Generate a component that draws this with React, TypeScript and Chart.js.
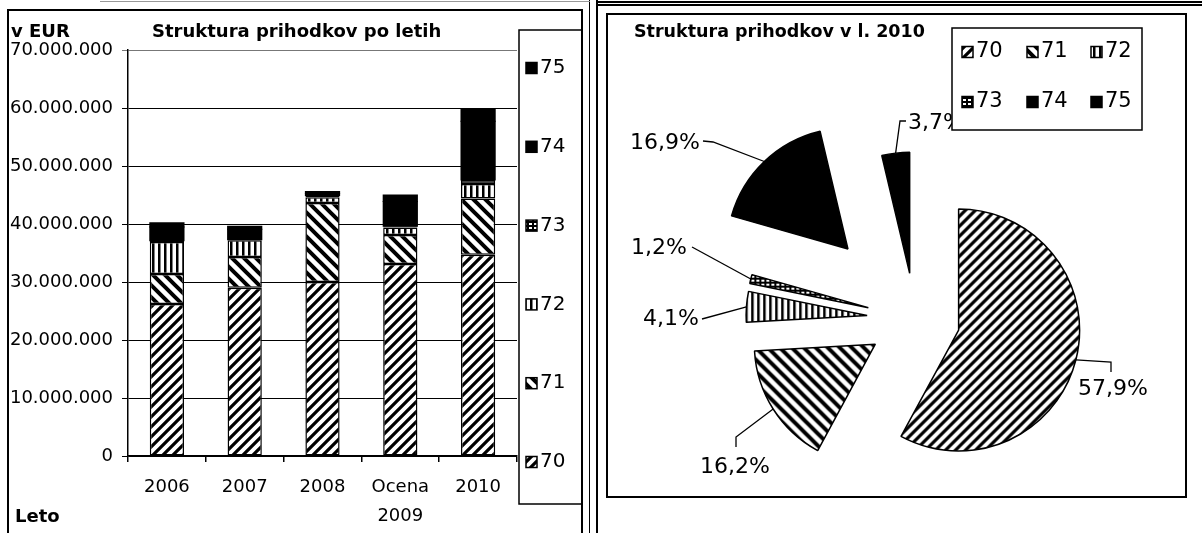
import React, { useEffect, useRef } from "react";
import { Chart, registerables } from "chart.js";

Chart.register(...registerables);

// ---------------- data ----------------
const yearLabels: (string | string[])[] = ["2006", "2007", "2008", ["Ocena", "2009"], "2010"];
const seriesCodes = ["70", "71", "72", "73", "74", "75"];
const rev70 = [26200000, 29000000, 30000000, 33100000, 34700000];
const rev71 = [5200000, 5300000, 13600000, 5000000, 9700000];
const rev72 = [5500000, 2900000, 1000000, 1300000, 2500000];
const rev73 = [200000, 100000, 300000, 200000, 700000];
const rev74 = [2400000, 1800000, 400000, 4300000, 10100000];
const rev75 = [700000, 500000, 300000, 1100000, 2200000];
const yTickValues = [0, 10000000, 20000000, 30000000, 40000000, 50000000, 60000000, 70000000];
const share2010 = [57.9, 16.2, 4.1, 1.2, 16.9, 3.7];

const barTitle = "Struktura prihodkov po letih";
const pieTitle = "Struktura prihodkov v l. 2010";
const yAxisName = "v EUR";
const xAxisName = "Leto";

const barSeries = [rev70, rev71, rev72, rev73, rev74, rev75];

// ---------------- styles ----------------
const FONT = "'DejaVu Sans', 'Liberation Sans', sans-serif";

const PATTERN_STYLE: Record<string, { kind: string; size: number; line: number }> = {
  "70": { kind: "up", size: 10, line: 3.2 },
  "71": { kind: "down", size: 12, line: 4 },
  "72": { kind: "vert", size: 6, line: 2.5 },
  "73": { kind: "dots", size: 5, line: 1 },
  "74": { kind: "solid", size: 1, line: 1 },
  "75": { kind: "solid", size: 1, line: 1 },
};

function makePattern(code: string): CanvasPattern | string {
  const st = PATTERN_STYLE[code];
  if (st.kind === "solid") return "#000";
  const c = document.createElement("canvas");
  const s = st.size;
  if (st.kind === "vert") {
    c.width = s;
    c.height = 4;
  } else if (st.kind === "dots") {
    c.width = 5;
    c.height = 4;
  } else {
    c.width = s;
    c.height = s;
  }
  const g = c.getContext("2d")!;
  g.fillStyle = "#fff";
  g.fillRect(0, 0, c.width, c.height);
  g.fillStyle = "#000";
  g.strokeStyle = "#000";
  g.lineWidth = st.line;
  if (st.kind === "up") {
    g.beginPath();
    g.moveTo(0, s); g.lineTo(s, 0);
    g.moveTo(-s / 2, s / 2); g.lineTo(s / 2, -s / 2);
    g.moveTo(s / 2, (3 * s) / 2); g.lineTo((3 * s) / 2, s / 2);
    g.stroke();
  } else if (st.kind === "down") {
    g.beginPath();
    g.moveTo(0, 0); g.lineTo(s, s);
    g.moveTo(-s / 2, s / 2); g.lineTo(s / 2, (3 * s) / 2);
    g.moveTo(s / 2, -s / 2); g.lineTo((3 * s) / 2, s / 2);
    g.stroke();
  } else if (st.kind === "vert") {
    g.fillRect(0, 0, st.line, c.height);
  } else if (st.kind === "dots") {
    g.fillRect(0, 0, 5, 4);
    g.fillStyle = "#fff";
    g.fillRect(1, 1, 3, 2);
  }
  return g.createPattern(c, "repeat")!;
}

const fmtThousands = (v: number) => String(Math.round(v)).replace(/\B(?=(\d{3})+(?!\d))/g, ".");
const fmtPct = (v: number) => v.toFixed(1).replace(".", ",") + "%";

// layout constants (canvas coordinates)
const BAR_CANVAS = { left: 8, top: 10, width: 574, height: 523 };
const PIE_CANVAS = { left: 607, top: 14, width: 579, height: 483 };

const BAR_LEGEND = { x: 511, y: 20, w: 63, h: 474, markerX: 518, textX: 532, firstY: 58, step: 78.8, box: 11, font: 20 };
const PIE_LEGEND = { x: 345, y: 14, w: 190, h: 102, cols: [355, 420, 484], rows: [38, 88], box: 11, font: 21 };

const PIE_EXPLODE = [45, 47, 48, 48, 97, 46];
const PIE_CALLOUTS: { pts: number[][]; tx: number; ty: number; align: CanvasTextAlign }[] = [
  { pts: [[504, 348], [504, 358]], tx: 506, ty: 375, align: "center" },
  { pts: [[129, 423], [129, 433]], tx: 128, ty: 453, align: "center" },
  { pts: [[95, 305]], tx: 92, ty: 305, align: "right" },
  { pts: [[85, 233]], tx: 80, ty: 234, align: "right" },
  { pts: [[106, 128], [96, 127]], tx: 93, ty: 129, align: "right" },
  { pts: [[293, 107], [299, 107]], tx: 301, ty: 109, align: "left" },
];

// ---------------- plugins ----------------
const barDecor = {
  id: "barDecor",
  afterDraw(chart: any) {
    const ctx: CanvasRenderingContext2D = chart.ctx;
    ctx.save();
    // legend box
    ctx.fillStyle = "#fff";
    ctx.fillRect(BAR_LEGEND.x, BAR_LEGEND.y, BAR_LEGEND.w, BAR_LEGEND.h);
    ctx.strokeStyle = "#000";
    ctx.lineWidth = 1.5;
    ctx.strokeRect(BAR_LEGEND.x, BAR_LEGEND.y, BAR_LEGEND.w, BAR_LEGEND.h);
    const ds = chart.data.datasets;
    for (let k = 0; k < ds.length; k++) {
      const i = ds.length - 1 - k;
      const cy = BAR_LEGEND.firstY + k * BAR_LEGEND.step;
      const b = BAR_LEGEND.box;
      ctx.fillStyle = ds[i].backgroundColor;
      ctx.fillRect(BAR_LEGEND.markerX, cy - b / 2, b, b);
      ctx.lineWidth = 1.5;
      ctx.strokeRect(BAR_LEGEND.markerX, cy - b / 2, b, b);
      ctx.fillStyle = "#000";
      ctx.font = `${BAR_LEGEND.font}px ${FONT}`;
      ctx.textBaseline = "middle";
      ctx.textAlign = "left";
      ctx.fillText(ds[i].label, BAR_LEGEND.textX, cy);
    }
    // titles
    ctx.fillStyle = "#000";
    ctx.font = `bold 18px ${FONT}`;
    ctx.textBaseline = "alphabetic";
    ctx.textAlign = "left";
    ctx.fillText(yAxisName, 3, 27);
    ctx.fillText(barTitle, 144, 27);
    ctx.textBaseline = "middle";
    ctx.fillText(xAxisName, 7, 507);
    ctx.restore();
  },
};

const pieExplode = {
  id: "pieExplode",
  beforeDatasetDraw(chart: any, args: any) {
    const ctx: CanvasRenderingContext2D = chart.ctx;
    const arcs = args.meta.data;
    arcs.forEach((arc: any, i: number) => {
      const mid = (arc.startAngle + arc.endAngle) / 2;
      const d = PIE_EXPLODE[i] || 0;
      ctx.save();
      ctx.translate(Math.cos(mid) * d, Math.sin(mid) * d);
      arc.draw(ctx);
      ctx.restore();
    });
    return false;
  },
  afterDatasetsDraw(chart: any) {
    const ctx: CanvasRenderingContext2D = chart.ctx;
    const meta = chart.getDatasetMeta(0);
    const values = chart.data.datasets[0].data;
    ctx.save();
    meta.data.forEach((arc: any, i: number) => {
      const mid = (arc.startAngle + arc.endAngle) / 2;
      const r = arc.outerRadius + (PIE_EXPLODE[i] || 0);
      const ax = arc.x + Math.cos(mid) * r;
      const ay = arc.y + Math.sin(mid) * r;
      const co = PIE_CALLOUTS[i];
      ctx.strokeStyle = "#000";
      ctx.lineWidth = 1.3;
      ctx.beginPath();
      ctx.moveTo(ax, ay);
      co.pts.forEach((p) => ctx.lineTo(p[0], p[1]));
      ctx.stroke();
      ctx.fillStyle = "#000";
      ctx.font = `22px ${FONT}`;
      ctx.textAlign = co.align;
      ctx.textBaseline = "middle";
      ctx.fillText(fmtPct(values[i]), co.tx, co.ty);
    });
    ctx.restore();
  },
  afterDraw(chart: any) {
    const ctx: CanvasRenderingContext2D = chart.ctx;
    ctx.save();
    ctx.fillStyle = "#fff";
    ctx.fillRect(PIE_LEGEND.x, PIE_LEGEND.y, PIE_LEGEND.w, PIE_LEGEND.h);
    ctx.strokeStyle = "#000";
    ctx.lineWidth = 1.5;
    ctx.strokeRect(PIE_LEGEND.x, PIE_LEGEND.y, PIE_LEGEND.w, PIE_LEGEND.h);
    const ds = chart.data.datasets[0];
    const labels = chart.data.labels;
    labels.forEach((lab: string, i: number) => {
      const col = i % 3;
      const row = Math.floor(i / 3);
      const x = PIE_LEGEND.cols[col];
      const cy = PIE_LEGEND.rows[row];
      const b = PIE_LEGEND.box;
      ctx.fillStyle = ds.backgroundColor[i];
      ctx.fillRect(x, cy - b / 2, b, b);
      ctx.lineWidth = 1.5;
      ctx.strokeRect(x, cy - b / 2, b, b);
      ctx.fillStyle = "#000";
      ctx.font = `${PIE_LEGEND.font}px ${FONT}`;
      ctx.textAlign = "left";
      ctx.textBaseline = "middle";
      ctx.fillText(lab, x + b + 3, cy);
    });
    ctx.font = `bold 17.5px ${FONT}`;
    ctx.textBaseline = "middle";
    ctx.fillText(pieTitle, 27, 18);
    ctx.restore();
  },
};

// ---------------- component ----------------
export default function App() {
  const barRef = useRef<HTMLCanvasElement>(null);
  const pieRef = useRef<HTMLCanvasElement>(null);

  useEffect(() => {
    const barPatterns = seriesCodes.map((c) => makePattern(c));
    const piePatterns = seriesCodes.map((c) => makePattern(c));

    const bar = new Chart(barRef.current!, {
      type: "bar",
      data: {
        labels: yearLabels as any,
        datasets: seriesCodes.map((code, i) => {
          const solid = PATTERN_STYLE[code].kind === "solid";
          return {
            label: code,
            data: barSeries[i],
            backgroundColor: barPatterns[i] as any,
            borderColor: "#000",
            borderWidth: solid ? 0 : 1.5,
            inflateAmount: solid ? 0.5 : "auto",
            borderSkipped: false,
            barPercentage: 0.44,
            categoryPercentage: 1,
          };
        }),
      },
      options: {
        animation: false,
        responsive: false,
        maintainAspectRatio: false,
        layout: { padding: { left: 0, top: 40, right: 65, bottom: 0 } },
        plugins: { legend: { display: false }, title: { display: false }, tooltip: { enabled: false } },
        scales: {
          x: {
            stacked: true,
            offset: true,
            grid: { display: true, drawOnChartArea: false, drawTicks: true, tickLength: 6, color: "#000", lineWidth: 1.5, offset: true },
            border: { color: "#000", width: 1.5 },
            ticks: { color: "#000", font: { family: FONT, size: 18, lineHeight: 1.6 }, padding: 11, maxRotation: 0, autoSkip: false },
            afterFit: (s: any) => { s.height = 77; },
          },
          y: {
            stacked: true,
            min: 0,
            max: 70000000,
            afterBuildTicks: (s: any) => { s.ticks = yTickValues.map((v) => ({ value: v })); },
            ticks: { color: "#000", font: { family: FONT, size: 18 }, padding: 9, callback: (v: any) => fmtThousands(Number(v)) },
            grid: {
              color: (c: any) => (c.tick && c.tick.value === 70000000 ? "#777" : "#000"),
              lineWidth: 1,
              tickLength: 6,
            },
            border: { color: "#000", width: 1.5 },
            afterFit: (s: any) => { s.width = 120; },
          },
        },
      } as any,
      plugins: [barDecor],
    });

    const pieLeftPad = 2 * 308 - PIE_CANVAS.width;
    const pieTopPad = 2 * 305 - PIE_CANVAS.height;
    const pie = new Chart(pieRef.current!, {
      type: "pie",
      data: {
        labels: seriesCodes,
        datasets: [
          {
            data: share2010,
            backgroundColor: piePatterns as any,
            borderColor: "#000",
            borderWidth: 1.5,
            radius: 121,
          } as any,
        ],
      },
      options: {
        animation: false,
        responsive: false,
        maintainAspectRatio: false,
        layout: { padding: { left: pieLeftPad, top: pieTopPad, right: 0, bottom: 0 } },
        plugins: { legend: { display: false }, title: { display: false }, tooltip: { enabled: false } },
      } as any,
      plugins: [pieExplode],
    });

    return () => {
      bar.destroy();
      pie.destroy();
    };
  }, []);

  const abs = (l: number, t: number, w: number, h: number): React.CSSProperties => ({
    position: "absolute", left: l, top: t, width: w, height: h,
  });

  return (
    <div style={{ position: "absolute", left: 0, top: 0, width: 1202, height: 533, background: "#fff", overflow: "hidden" }}>
      <canvas ref={barRef} width={BAR_CANVAS.width} height={BAR_CANVAS.height}
        style={{ ...abs(BAR_CANVAS.left, BAR_CANVAS.top, BAR_CANVAS.width, BAR_CANVAS.height), display: "block" }} />
      <canvas ref={pieRef} width={PIE_CANVAS.width} height={PIE_CANVAS.height}
        style={{ ...abs(PIE_CANVAS.left, PIE_CANVAS.top, PIE_CANVAS.width, PIE_CANVAS.height), display: "block" }} />
      {/* panel frames */}
      <div style={{ ...abs(7, 9, 576, 540), border: "2px solid #000", boxSizing: "border-box", pointerEvents: "none" }} />
      <div style={{ ...abs(606, 13, 581, 485), border: "2px solid #000", boxSizing: "border-box", pointerEvents: "none" }} />
      {/* table lines */}
      <div style={{ ...abs(589, 0, 1, 533), background: "#000" }} />
      <div style={{ ...abs(596, 0, 2, 533), background: "#000" }} />
      <div style={{ ...abs(596, 1, 606, 1.5), background: "#000" }} />
      <div style={{ ...abs(596, 4, 606, 1.5), background: "#000" }} />
      <div style={{ ...abs(100, 1, 490, 1), background: "#999" }} />
    </div>
  );
}
